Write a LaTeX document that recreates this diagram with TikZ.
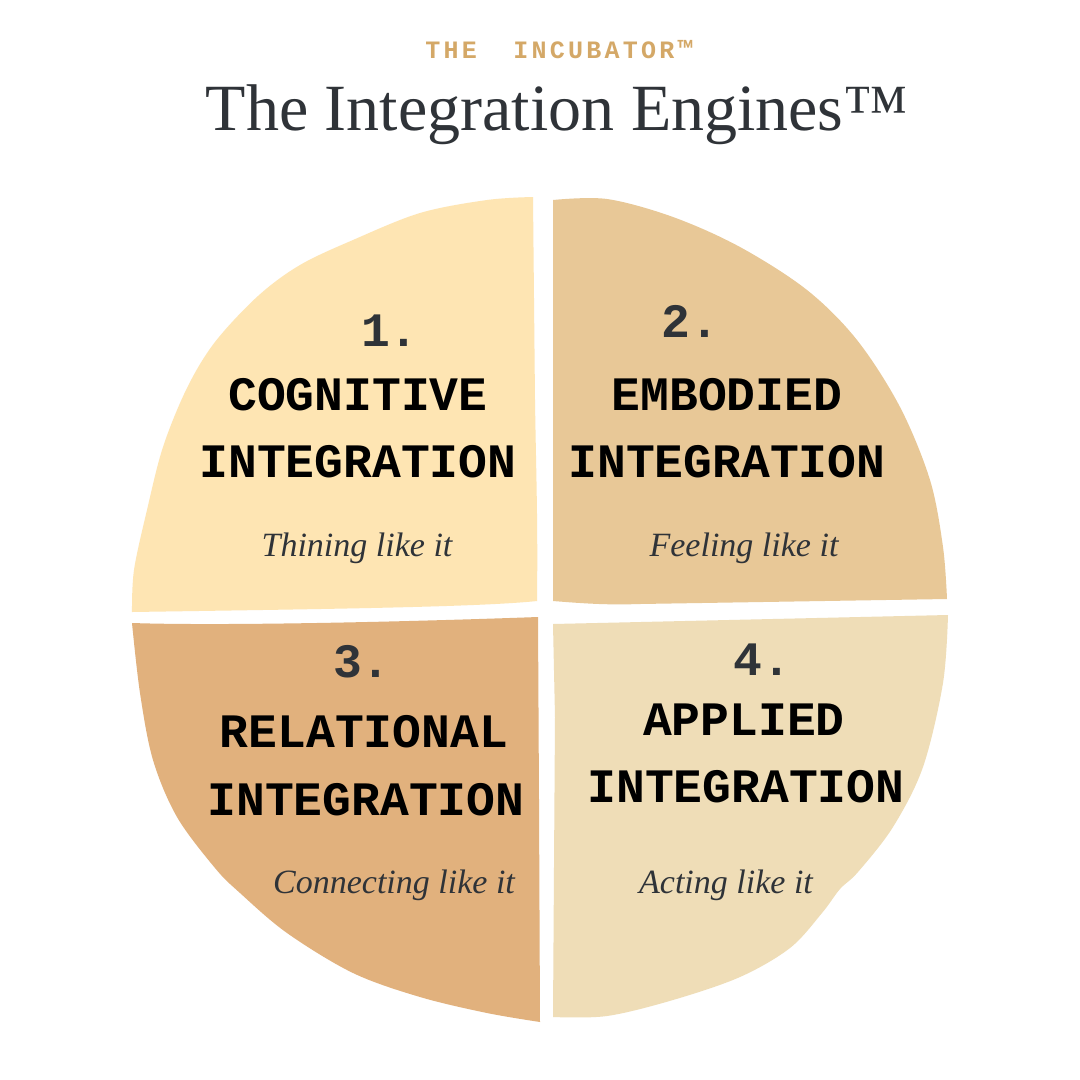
\documentclass[tikz,border=0pt]{standalone}
\usepackage{fontspec}
\setmainfont{Liberation Serif}
\setmonofont{Liberation Mono}
\usepackage{xcolor}

\definecolor{qone}{HTML}{FEE5B3}
\definecolor{qtwo}{HTML}{E8C897}
\definecolor{qthree}{HTML}{E1B17D}
\definecolor{qfour}{HTML}{EFDDB7}
\definecolor{gold}{HTML}{D4A867}
\definecolor{ink}{HTML}{2F3338}

\tikzset{
  numlabel/.style={font=\fontsize{48}{48}\selectfont\ttfamily\bfseries, text=ink, anchor=base, inner sep=0pt},
  headlabel/.style={font=\fontsize{48}{48}\selectfont\ttfamily\bfseries, text=black, anchor=base, inner sep=0pt},
  sublabel/.style={font=\fontsize{34}{34}\selectfont\itshape, text=ink, anchor=base, inner sep=0pt}
}

\begin{document}
\begin{tikzpicture}[x=1pt,y=-1pt]

\fill[white] (0,0) rectangle (1080,1080);
\useasboundingbox (0,0) rectangle (1080,1080);

% the four pieces
\fill[qone] (533,197) -- (535,400) .. controls (536,470) and (538,520) .. (537,601)
  .. controls (480,607) and (330,609) .. (132,612)
  -- plot[smooth, tension=0.55] coordinates {(132,612) (134,570) (147,510) (163,447) (187,388) (215,342) (258,296) (300,265) (353,240) (420,213) (487,200) (533,197)} -- cycle;

\fill[qtwo] (553,200) -- (553,601) .. controls (590,604) and (610,605) .. (640,604) -- (947,599)
  -- plot[smooth, tension=0.55] coordinates {(947,599) (943,547) (930,480) (900,407) (857,340) (807,290) (740,247) (673,217) (607,199) (553,200)} -- cycle;

\fill[qthree] (132,623) .. controls (220,626) and (400,622) .. (538,617) -- (539,800) -- (540,1022)
  -- plot[smooth, tension=0.55] coordinates {(540,1022) (487,1013) (420,997) (353,973) (287,933) (240,893) (215,868) (177,817) (153,760) (140,693) (132,623)} -- cycle;

\fill[qfour] (553,624) -- (948,615)
  -- plot[smooth, tension=0.55] coordinates {(948,615) (943,683) (923,767) (893,827) (858,872) (840,889) (822,913) (790,948) (740,977) (673,1000) (607,1016) (553,1017)}
  -- (555,717) -- cycle;

% titles
\node[anchor=base, inner sep=0pt, text=gold, font=\fontsize{25}{25}\selectfont\ttfamily\bfseries\addfontfeature{LetterSpace=13}] (brand) at (559,58) {THE\ \ INCUBATOR™};
\node[anchor=base, inner sep=0pt, text=ink, font=\fontsize{66}{66}\selectfont] (title) at (557,130) {The Integration Engines™};

% 1
\node[numlabel] (numA) at (390,346) {1.};
\node[headlabel] (headA) at (358,410) {COGNITIVE};
\node[headlabel] (intA) at (358,477) {INTEGRATION};
\node[sublabel] (subA) at (357,556) {Thining like it};

% 2
\node[numlabel] (numB) at (690,337) {2.};
\node[headlabel] (headB) at (727,410) {EMBODIED};
\node[headlabel] (intB) at (727,477) {INTEGRATION};
\node[sublabel] (subB) at (744,556) {Feeling like it};

% 3
\node[numlabel] (numC) at (362,677) {3.};
\node[headlabel] (headC) at (364,747) {RELATIONAL};
\node[headlabel] (intC) at (366,815) {INTEGRATION};
\node[sublabel] (subC) at (394,893) {Connecting like it};

% 4
\node[numlabel] (numD) at (762,675) {4.};
\node[headlabel] (headD) at (744,735) {APPLIED};
\node[headlabel] (intD) at (746,802) {INTEGRATION};
\node[sublabel] (subD) at (726,893) {Acting like it};

\end{tikzpicture}
\end{document}
